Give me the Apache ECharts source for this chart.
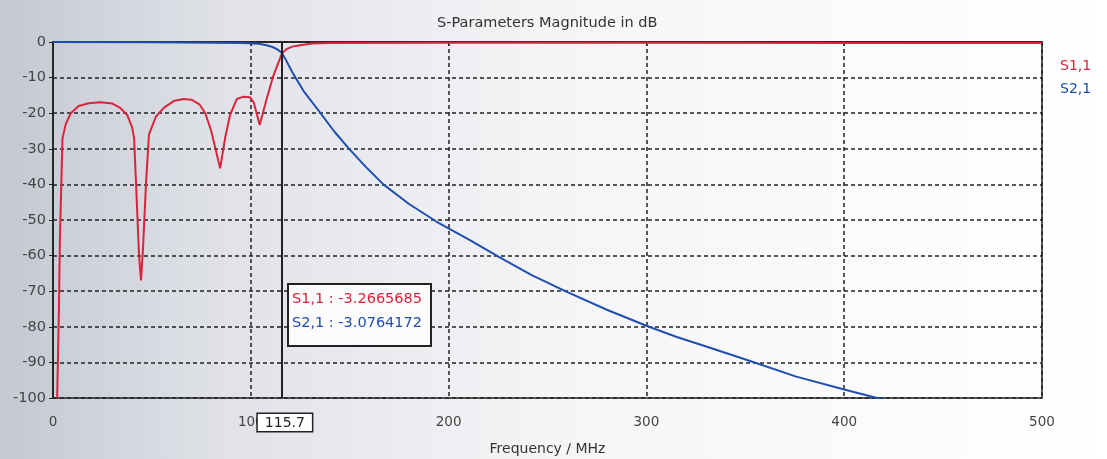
<!DOCTYPE html>
<html>
<head>
<meta charset="utf-8">
<title>S-Parameters Magnitude in dB</title>
<script src="https://cdn.jsdelivr.net/npm/echarts@6/dist/echarts.min.js"></script>
<style>
  html, body { margin: 0; padding: 0; background: #fff; }
  #chart { width: 1107px; height: 459px; }
</style>
</head>
<body>
<div id="chart"></div>
<script>
// S1,1 (reflection) frequency / dB
const s11Freq = [2.1, 3, 3.5, 4.8, 6.5, 9, 13, 18, 24, 30, 34, 37.5, 40, 41, 42, 43.5, 44.5, 45.5, 47, 48.5,
  52, 56, 61, 66, 70, 74, 77, 80, 84.5, 87, 89.5, 93, 96, 99.5, 101.5, 104.5, 108, 111.4, 115.7,
  118, 121, 125, 131, 140, 200, 300, 400, 500]
const s11Db = [-100, -75, -55, -27, -23, -20, -18, -17.2, -16.9, -17.3, -18.5, -20.5, -24, -27, -40, -60, -67, -58, -40, -26,
  -21, -18.5, -16.6, -16, -16.2, -17.5, -20, -25, -35.5, -27, -20.5, -16, -15.4, -15.5, -17, -23.3, -16, -9.5, -3.27,
  -2, -1.3, -0.9, -0.4, -0.25, -0.2, -0.2, -0.25, -0.3]

// S2,1 (transmission)
const s21Freq = [0, 50, 80, 95, 104, 108, 111, 113.5, 115.7, 118, 121, 126.6, 135, 142, 149.4, 158, 167, 180, 194,
  211, 225.6, 242, 259.8, 280, 300, 315, 330.6, 352.4, 375.8, 400, 420, 450, 500]
const s21Db = [0, -0.1, -0.2, -0.3, -0.5, -0.9, -1.4, -2.1, -3.08, -5.3, -8.5, -13.7, -19.8, -25, -29.8, -35, -40, -45.5, -50.5,
  -55.7, -60.4, -65.5, -70.2, -75.2, -79.7, -82.8, -85.6, -89.6, -94, -97.6, -100.5, -104, -109]

// marker readout
const markerFreq = 115.7
const markerS11 = '-3.2665685'
const markerS21 = '-3.0764172'

const seriesNames = ['S1,1', 'S2,1']
const xTicks = [0, 100, 200, 300, 400, 500]

const RED = '#d8243c'
const BLUE = '#1f4fae'
const FONT = 'DejaVu Sans'

function zip (xs, ys) {
  return xs.map(function (x, i) { return [x, ys[i]] })
}

const chart = echarts.init(document.getElementById('chart'))

const option = {
  animation: false,
  backgroundColor: {
    type: 'linear', x: 0, y: 0, x2: 1, y2: 0,
    colorStops: [
      { offset: 0, color: '#c4c8d1' },
      { offset: 0.2, color: '#e0e2e8' },
      { offset: 0.5, color: '#f5f5f7' },
      { offset: 1, color: '#ffffff' }
    ]
  },
  textStyle: { fontFamily: FONT },
  title: {
    text: 'S-Parameters Magnitude in dB',
    left: 432,
    top: 11,
    textStyle: { fontSize: 14.5, fontWeight: 'normal', color: '#333', fontFamily: FONT }
  },
  legend: {
    orient: 'vertical',
    left: 1049,
    top: 54,
    itemWidth: 0,
    itemHeight: 0,
    itemGap: 9,
    selectedMode: false,
    data: [
      { name: seriesNames[0], textStyle: { color: RED } },
      { name: seriesNames[1], textStyle: { color: BLUE } }
    ],
    textStyle: { fontSize: 14, fontFamily: FONT }
  },
  grid: {
    left: 53,
    right: 65,
    top: 42,
    bottom: 61,
    outerBoundsMode: 'none',
    containLabel: false,
    show: true,
    borderColor: '#222',
    borderWidth: 1.5
  },
  xAxis: {
    type: 'value',
    min: xTicks[0],
    max: xTicks[xTicks.length - 1],
    interval: 100,
    name: 'Frequency / MHz',
    nameLocation: 'middle',
    nameGap: 44,
    nameTextStyle: { fontSize: 14, color: '#333' },
    axisLine: { show: true, lineStyle: { color: '#222', width: 1.5 } },
    axisTick: { show: true, length: 4, lineStyle: { color: '#222' } },
    axisLabel: { fontSize: 13.5, color: '#444', margin: 17 },
    splitLine: { show: true, lineStyle: { color: '#222', type: [4, 3], width: 1.5 } }
  },
  yAxis: {
    type: 'value',
    min: -100,
    max: 0,
    interval: 10,
    axisLine: { show: true, lineStyle: { color: '#222', width: 1.5 } },
    axisTick: { show: true, length: 4, lineStyle: { color: '#222' } },
    axisLabel: { fontSize: 14.5, color: '#444', margin: 7 },
    splitLine: { show: true, lineStyle: { color: '#222', type: [4, 3], width: 1.5 } }
  },
  series: [
    {
      name: seriesNames[0],
      type: 'line',
      data: zip(s11Freq, s11Db),
      showSymbol: false,
      clip: true,
      z: 3,
      lineStyle: { color: RED, width: 2 },
      itemStyle: { color: RED }
    },
    {
      name: seriesNames[1],
      type: 'line',
      data: zip(s21Freq, s21Db),
      showSymbol: false,
      clip: true,
      z: 4,
      lineStyle: { color: BLUE, width: 2 },
      itemStyle: { color: BLUE },
      // marker line at the -3 dB point
      markLine: {
        silent: true,
        symbol: 'none',
        lineStyle: { color: '#222', width: 2, type: 'solid' },
        label: {
          show: true,
          position: 'start',
          distance: 16,
          offset: [3, 0],
          formatter: String(markerFreq),
          fontSize: 14,
          color: '#222',
          backgroundColor: '#fff',
          borderColor: '#222',
          borderWidth: 1.5,
          padding: [2, 7, 1, 7]
        },
        data: [{ xAxis: markerFreq }]
      }
    }
  ],
  graphic: [
    {
      type: 'rect',
      left: 287,
      top: 283,
      z: 100,
      shape: { x: 0, y: 0, width: 143, height: 62 },
      style: { fill: '#fbfbfc', stroke: '#222', lineWidth: 2 }
    },
    {
      type: 'text',
      left: 292,
      top: 292,
      z: 101,
      style: { text: seriesNames[0] + ' : ' + markerS11, fill: RED, font: '14.5px "DejaVu Sans"' }
    },
    {
      type: 'text',
      left: 292,
      top: 316,
      z: 101,
      style: { text: seriesNames[1] + ' : ' + markerS21, fill: BLUE, font: '14.5px "DejaVu Sans"' }
    }
  ]
}

chart.setOption(option)
</script>
</body>
</html>
